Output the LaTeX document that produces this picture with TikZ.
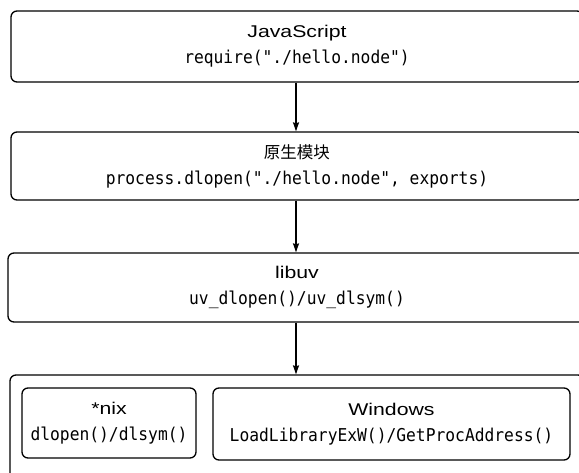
\documentclass[tikz,border=0pt]{standalone}
\usepackage{fontspec}
\setsansfont{Liberation Sans}[FakeStretch=1.25]
\setmonofont{DejaVu Sans Mono}[FakeStretch=0.92]
\newfontfamily\cjk{Noto Sans CJK SC}
\usetikzlibrary{arrows.meta}

\begin{document}
\begin{tikzpicture}[x=1pt, y=-1pt,
    layer/.style={draw, line width=1.3pt, rounded corners=6pt, align=center,
      inner sep=0pt, font=\fontsize{17.7}{26}\selectfont},
    call/.style={-{Stealth[length=9pt, width=6pt, inset=1pt]}, line width=1.2pt}]
  \clip (0,0) rectangle (579,473);

  % the layers, top to bottom
  \node[layer, minimum width=572, minimum height=71] (js) at (297,46.5)
    {{\sffamily\fontsize{17}{26}\selectfont JavaScript}\\\texttt{require("./hello.node")}};
  \node[layer, minimum width=572, minimum height=68] (addon) at (297,166)
    {{\cjk\fontsize{16.5}{26}\selectfont 原生模块}\\\texttt{process.dlopen("./hello.node", exports)}};
  \node[layer, minimum width=578, minimum height=69] (libuv) at (297,287.5)
    {{\sffamily\fontsize{17}{26}\selectfont libuv}\\\texttt{uv\_dlopen()/uv\_dlsym()}};
  \node[layer, minimum width=574, minimum height=110] (os) at (297,430) {};

  % platform boxes
  \node[layer, minimum width=174, minimum height=70] (nix) at (109,423)
    {{\sffamily\fontsize{17}{26}\selectfont *nix}\\\texttt{dlopen()/dlsym()}};
  \node[layer, minimum width=357, minimum height=72] (win) at (391.5,424)
    {{\sffamily\fontsize{17}{26}\selectfont Windows}\\\texttt{LoadLibraryExW()/GetProcAddress()}};

  \coordinate (axis) at (296,0);
  \draw[call] (js.south -| axis) -- (addon.north -| axis);
  \draw[call] (addon.south -| axis) -- (libuv.north -| axis);
  \draw[call] (libuv.south -| axis) -- (os.north -| axis);
\end{tikzpicture}
\end{document}
